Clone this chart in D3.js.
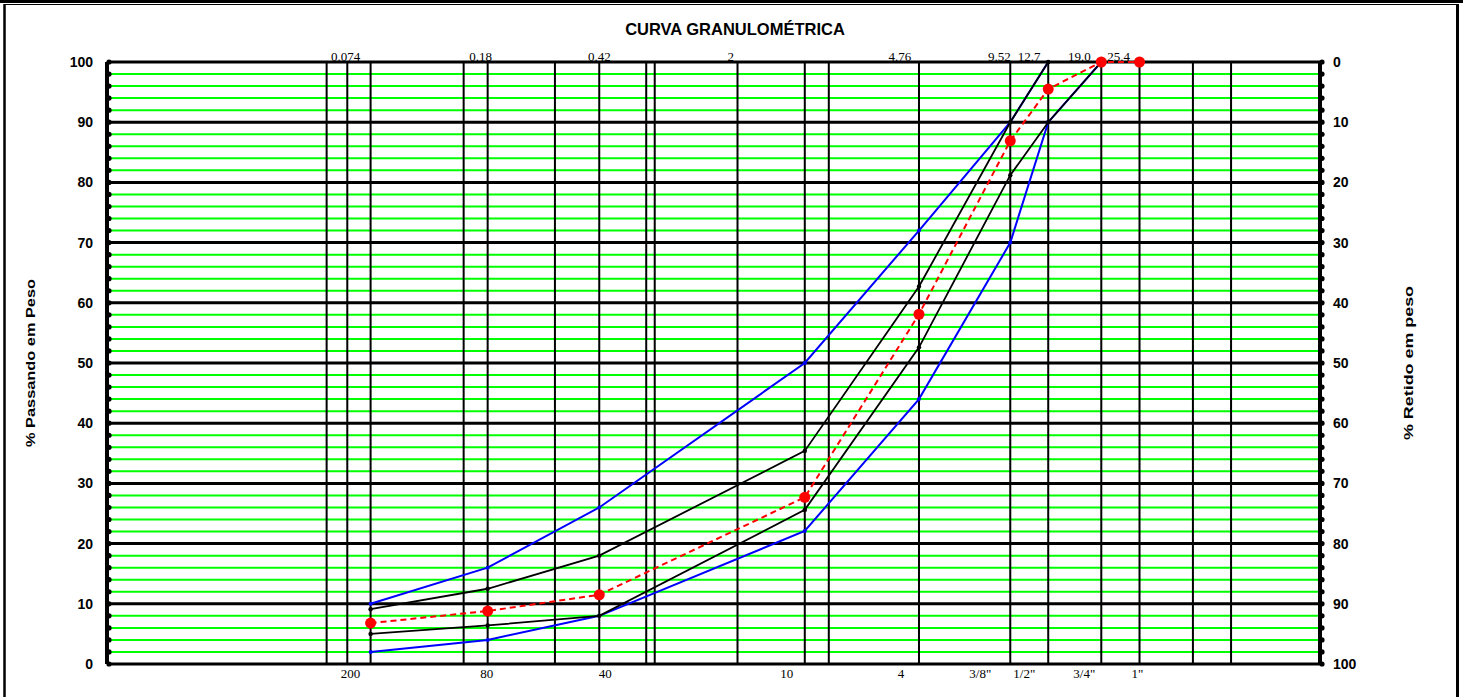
<!DOCTYPE html>
<html>
<head>
<meta charset="utf-8">
<script src="https://cdn.jsdelivr.net/npm/d3@7"></script>
<style>
  body { margin: 0; background: #fff; }
  svg { display: block; }
  .tick-label { font-family: Arial, "Liberation Sans", sans-serif; font-weight: bold; font-size: 14px; }
  .sieve-label { font-family: "Times New Roman", "Liberation Serif", serif; font-size: 13px; }
  .axis-title { font-family: Arial, "Liberation Sans", sans-serif; font-weight: bold; font-size: 13px; }
</style>
</head>
<body>
<svg id="chart" width="1463" height="697"></svg>
<script>
// sieve openings (mm) where the curves are measured
const sieves = [0.074, 0.18, 0.42, 2.0, 4.76, 9.52, 12.7, 19.0, 25.4];

// % passing for each series (null = not plotted)
const upperOuter = [10, 16, 26, 50, 72, 90, 100, 100, null];
const upperInner = [9.1, 12.5, 18, 35.4, 62.7, 90, 100, 100, null];
const lowerInner = [5, 6.4, 8, 25.6, 52.6, 81.2, 90, 100, null];
const lowerOuter = [2, 4, 8, 22.1, 44, 70, 90, 100, null];
const sample = [6.8, 8.8, 11.5, 27.7, 58.1, 86.9, 95.5, 100, 100];

// vertical grid lines (mm)
const gridSieves = [0.053, 0.062, 0.074, 0.15, 0.18, 0.30, 0.42, 0.60, 0.64, 1.2, 2.0, 2.4,
  4.76, 9.52, 12.7, 19.0, 25.4, 38.1, 50.9];

// labels along top (mm) and bottom (sieve number / inch)
const topLabels = ["0.074", "0.18", "0.42", "2", "4.76", "9.52", "12.7", "19.0", "25.4"];
const bottomLabels = ["200", "80", "40", "10", "4", "3/8\"", "1/2\"", "3/4\"", "1\""];

const yTicks = d3.range(0, 101, 10);

// text boxes in the sheet sit a bit off their lines
const topShift = [-25, -7, 0, -74, -19, -11, -19, -22, -21];
const bottomShift = [-20, -1, 6, -18, -18, -30, -24, -17, -2];

const svg = d3.select("#chart");
const W = 1463, H = 697;
const pLeft = 107, pRight = 1320, pTop = 62, pBottom = 664;

const x = d3.scaleLog().domain([0.01, 100]).range([pLeft, pRight]);
const y = d3.scaleLinear().domain([0, 100]).range([pBottom, pTop]);
const yRet = d3.scaleLinear().domain([100, 0]).range([pBottom, pTop]);

// sheet frame
svg.append("line").attr("x1", 0).attr("x2", W).attr("y1", 1.5).attr("y2", 1.5)
  .attr("stroke", "#000").attr("stroke-width", 3);
svg.append("line").attr("x1", 4).attr("x2", 1457).attr("y1", 4.5).attr("y2", 4.5)
  .attr("stroke", "#000").attr("stroke-width", 1);
svg.append("line").attr("x1", 4.5).attr("x2", 4.5).attr("y1", 4).attr("y2", H)
  .attr("stroke", "#000").attr("stroke-width", 2.5);
svg.append("line").attr("x1", 1457.5).attr("x2", 1457.5).attr("y1", 4).attr("y2", H)
  .attr("stroke", "#000").attr("stroke-width", 3);

// title
svg.append("text")
  .attr("x", 735).attr("y", 35)
  .attr("text-anchor", "middle")
  .attr("font-family", "Arial, 'Liberation Sans', sans-serif")
  .attr("font-weight", "bold").attr("font-size", 16.5)
  .text("CURVA GRANULOMÉTRICA");

// horizontal grid: green minor every 2, black every 10
const minor = d3.range(2, 100, 2).filter(v => v % 10 !== 0);
svg.append("g").selectAll("line").data(minor).enter().append("line")
  .attr("x1", pLeft).attr("x2", pRight)
  .attr("y1", d => y(d)).attr("y2", d => y(d))
  .attr("stroke", "#00ff00").attr("stroke-width", 2);

svg.append("g").selectAll("line").data(yTicks).enter().append("line")
  .attr("x1", pLeft).attr("x2", pRight)
  .attr("y1", d => y(d)).attr("y2", d => y(d))
  .attr("stroke", "#000").attr("stroke-width", 3);

// vertical grid
svg.append("g").selectAll("line").data(gridSieves).enter().append("line")
  .attr("x1", d => x(d)).attr("x2", d => x(d))
  .attr("y1", pTop).attr("y2", pBottom)
  .attr("stroke", "#000").attr("stroke-width", 2);

// side axes with dot ticks
[pLeft, pRight].forEach(px => {
  svg.append("line").attr("x1", px).attr("x2", px).attr("y1", pTop).attr("y2", pBottom)
    .attr("stroke", "#000").attr("stroke-width", 4);
  svg.append("g").selectAll("circle").data(d3.range(0, 101, 2)).enter().append("circle")
    .attr("cx", px + 2).attr("cy", d => y(d)).attr("r", 2.6).attr("fill", "#000");
});

// tick labels
svg.append("g").selectAll("text").data(yTicks).enter().append("text")
  .attr("class", "tick-label")
  .attr("x", 93).attr("y", d => y(d) + 5)
  .attr("text-anchor", "end")
  .text(d => d);

svg.append("g").selectAll("text").data(yTicks).enter().append("text")
  .attr("class", "tick-label")
  .attr("x", 1333).attr("y", d => yRet(d) + 5)
  .text(d => d);

// axis titles (stretched like the sheet's text boxes)
svg.append("text")
  .attr("class", "axis-title")
  .attr("transform", `translate(35, ${(pTop + pBottom) / 2}) rotate(-90)`)
  .attr("text-anchor", "middle")
  .attr("textLength", 168).attr("lengthAdjust", "spacingAndGlyphs")
  .text("% Passando em Peso");

svg.append("text")
  .attr("class", "axis-title")
  .attr("transform", `translate(1413, ${(pTop + pBottom) / 2}) rotate(-90)`)
  .attr("text-anchor", "middle")
  .attr("textLength", 154).attr("lengthAdjust", "spacingAndGlyphs")
  .text("% Retido em peso");

// sieve labels
svg.append("g").selectAll("text").data(topLabels).enter().append("text")
  .attr("class", "sieve-label")
  .attr("x", (d, i) => x(sieves[i]) + topShift[i]).attr("y", pTop - 1)
  .attr("text-anchor", "middle")
  .text(d => d);

svg.append("g").selectAll("text").data(bottomLabels).enter().append("text")
  .attr("class", "sieve-label")
  .attr("x", (d, i) => x(sieves[i]) + bottomShift[i]).attr("y", pBottom + 14)
  .attr("text-anchor", "middle")
  .text(d => d);

// curves
const line = d3.line()
  .defined(d => d[1] != null)
  .x(d => x(d[0])).y(d => y(d[1]));

function drawSeries(values, color, width, dash, marker) {
  const pts = sieves.map((s, i) => [s, values[i]]);
  svg.append("path").datum(pts)
    .attr("d", line)
    .attr("fill", "none")
    .attr("stroke", color).attr("stroke-width", width)
    .attr("stroke-dasharray", dash);
  svg.append("g").selectAll("circle").data(pts.filter(p => p[1] != null)).enter()
    .append("circle")
    .attr("cx", p => x(p[0])).attr("cy", p => y(p[1]))
    .attr("r", marker).attr("fill", color);
}

drawSeries(upperOuter, "#0000ff", 2, null, 2);
drawSeries(lowerOuter, "#0000ff", 2, null, 2);
drawSeries(upperInner, "#000", 1.8, null, 2.2);
drawSeries(lowerInner, "#000", 1.8, null, 2.2);
drawSeries(sample, "#ff0000", 2, "6,4", 5.5);
</script>
</body>
</html>
